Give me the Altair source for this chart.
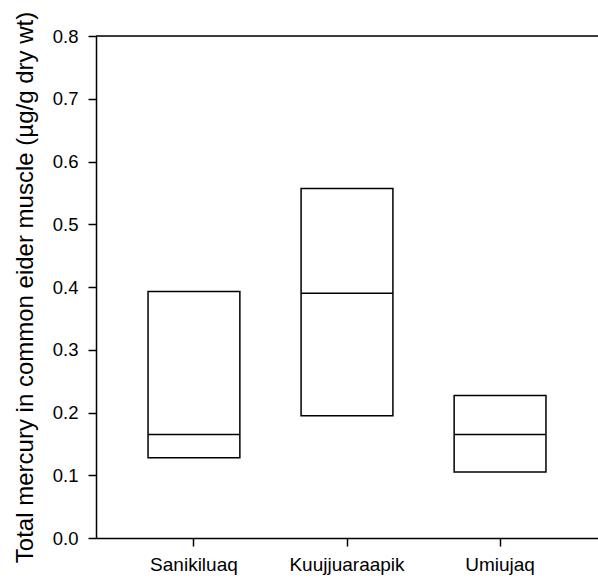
import altair as alt
import pandas as pd

sites = ["Sanikiluaq", "Kuujjuaraapik", "Umiujaq"]
low = [0.128, 0.195, 0.105]
median = [0.165, 0.390, 0.165]
high = [0.393, 0.557, 0.227]

df = pd.DataFrame({"site": sites, "low": low, "median": median, "high": high})

FONT = "Liberation Sans"

xscale = alt.Scale(domain=sites, paddingInner=0.4, paddingOuter=0.34)
yscale = alt.Scale(domain=[0, 0.8], nice=False, zero=True)

xaxis = alt.Axis(
    title=None, labelFont=FONT, labelFontSize=19, labelColor="black",
    labelAngle=0, labelPadding=9, tickSize=8, tickColor="black", tickWidth=1.5,
    domainColor="black", domainWidth=1.5, grid=False,
)
yaxis = alt.Axis(
    title="Total mercury in common eider muscle (µg/g dry wt)",
    titleFont=FONT, titleFontSize=24, titleFontWeight="normal", titleColor="black",
    titleX=-71, titleY=251, titleAngle=-90, titleAlign="center", titleBaseline="middle",
    labelFont=FONT, labelFontSize=18.5, labelColor="black", labelPadding=10,
    values=[0, 0.1, 0.2, 0.3, 0.4, 0.5, 0.6, 0.7, 0.8], format=".1f",
    tickSize=8, tickColor="black", tickWidth=1.5,
    domainColor="black", domainWidth=1.5, grid=False,
)

base = alt.Chart(df)

boxes = base.mark_bar(fill="white", stroke="black", strokeWidth=1.5).encode(
    x=alt.X("site:N", scale=xscale, axis=xaxis, sort=sites),
    y=alt.Y("low:Q", scale=yscale, axis=yaxis),
    y2="high:Q",
)

med = base.mark_bar(fill="white", stroke="black", strokeWidth=1.5).encode(
    x=alt.X("site:N", scale=xscale, sort=sites),
    y=alt.Y("median:Q", scale=yscale),
    y2="median:Q",
)

top = alt.Chart(pd.DataFrame({"v": [0.8]})).mark_rule(color="black", strokeWidth=1.5).encode(
    y=alt.Y("v:Q", scale=yscale),
    x=alt.value(0),
    x2=alt.value(502),
)

chart = alt.layer(boxes, med, top).properties(
    width=502, height=502,
    autosize=alt.AutoSizeParams(type="none"),
    padding={"left": 96, "top": 36, "right": 0, "bottom": 40},
).configure_view(stroke=None).configure(background="white")

chart.save("out.html", embed_options={"renderer": "svg", "actions": False})
